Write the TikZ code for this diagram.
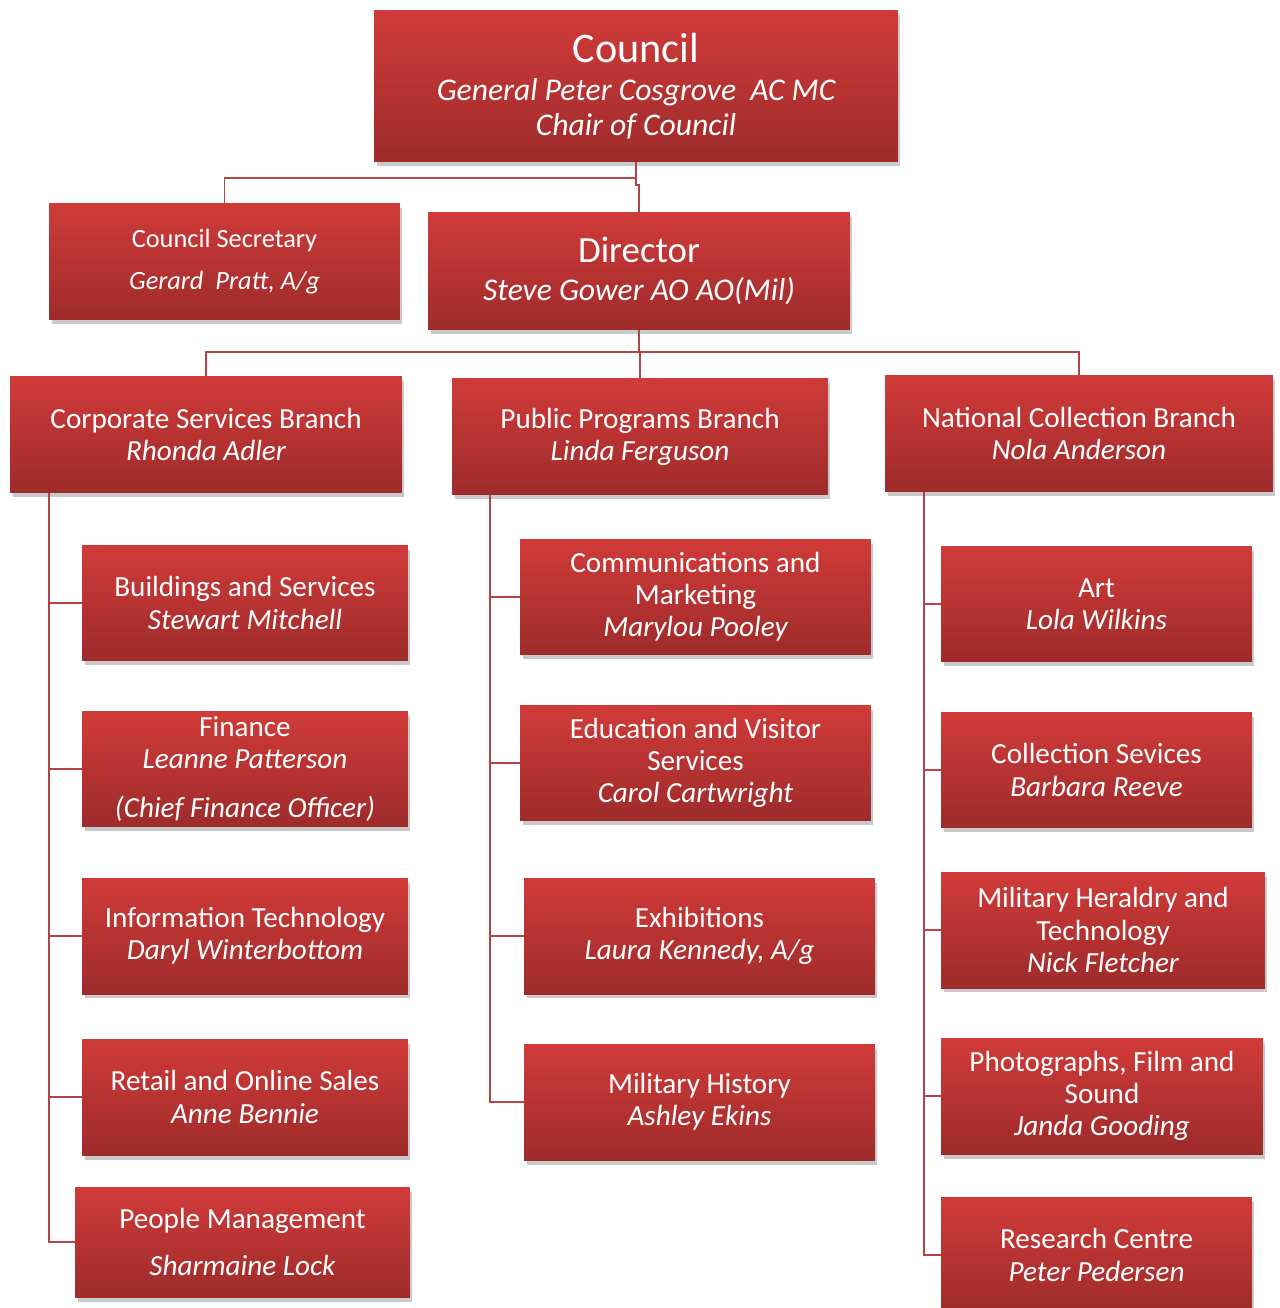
\documentclass[tikz,border=0pt]{standalone}
\usepackage{fontspec}
\setmainfont{Carlito}
\usetikzlibrary{shadows}

\definecolor{boxtop}{RGB}{208,59,57}
\definecolor{boxbot}{RGB}{158,43,43}
\definecolor{linkred}{RGB}{178,68,70}

\newcommand{\fsz}[2]{\fontsize{#1}{#2}\selectfont}

\begin{document}
\begin{tikzpicture}[x=0.02cm,y=-0.02cm,
  every node/.style={align=center},
  box/.style={rectangle, inner sep=0pt, text=white, top color=boxtop, bottom color=boxbot,
              drop shadow={shadow xshift=0.05cm, shadow yshift=-0.09cm, opacity=0.3, fill=black!70},
              font=\fsz{16.6}{18.3}},
  unit/.style={box, minimum height=2.32cm},
  conn/.style={draw=linkred, line width=1.1pt}]
\useasboundingbox (0,0) rectangle (1279,1308);

% top of the tree
\node[box, minimum width=10.48cm, minimum height=3.04cm, font=\fsz{18}{19.8}] (council) at (636,86)
  {{\fsz{24}{24}Council}\\[2pt]\itshape General Peter Cosgrove~~AC MC\\\itshape Chair of Council};
\node[box, minimum width=7.02cm, minimum height=2.34cm, font=\fsz{15}{17}] (secr) at (224.5,261.5)
  {Council Secretary\\[7pt]\itshape Gerard~~Pratt, A/g};
\node[box, minimum width=8.44cm, minimum height=2.34cm, font=\fsz{18}{21.5}] (dir) at (639,271)
  {{\fsz{21}{22}Director}\\\itshape Steve Gower AO AO(Mil)};

% branches
\node[box, minimum width=7.84cm, minimum height=2.34cm] (corp) at (206,434.5)
  {Corporate Services Branch\\\itshape Rhonda Adler};
\node[box, minimum width=7.52cm, minimum height=2.34cm] (pub) at (640,436.5)
  {Public Programs Branch\\\itshape Linda Ferguson};
\node[box, minimum width=7.76cm, minimum height=2.34cm] (nat) at (1079,433.5)
  {National Collection Branch\\\itshape Nola Anderson};

% corporate services
\node[unit, minimum width=6.52cm] (bldg) at (245,603) {Buildings and Services\\\itshape Stewart Mitchell};
\node[unit, minimum width=6.52cm] (fin) at (245,769) {Finance\\\itshape Leanne Patterson\\[10pt]\itshape(Chief Finance Officer)};
\node[unit, minimum width=6.52cm] (it) at (245,936) {Information Technology\\\itshape Daryl Winterbottom};
\node[unit, minimum width=6.52cm] (retail) at (245,1097) {Retail and Online Sales\\\itshape Anne Bennie};
\node[unit, minimum width=6.70cm, minimum height=2.20cm] (people) at (242.5,1242) {People Management\\[8pt]\itshape Sharmaine Lock};

% public programs
\node[unit, minimum width=7.02cm] (comms) at (695.5,597) {Communications and\\Marketing\\\itshape Marylou Pooley};
\node[unit, minimum width=7.02cm] (edu) at (695.5,763) {Education and Visitor\\Services\\\itshape Carol Cartwright};
\node[unit, minimum width=7.02cm] (exhib) at (699.5,936) {Exhibitions\\\itshape Laura Kennedy, A/g};
\node[unit, minimum width=7.02cm] (milhist) at (699.5,1102) {Military History\\\itshape Ashley Ekins};

% national collection
\node[unit, minimum width=6.22cm] (art) at (1096.5,604) {Art\\\itshape Lola Wilkins};
\node[unit, minimum width=6.22cm] (coll) at (1096.5,770) {Collection Sevices\\\itshape Barbara Reeve};
\node[unit, minimum width=6.48cm] (herald) at (1103,930) {Military Heraldry and\\Technology\\\itshape Nick Fletcher};
\node[unit, minimum width=6.44cm] (photo) at (1102,1096) {Photographs, Film and\\Sound\\\itshape Janda Gooding};
\node[unit, minimum width=6.22cm] (research) at (1096.5,1255) {Research Centre\\\itshape Peter Pedersen};

% connectors
\draw[conn] (council.south) -- ++(0,16) -| (secr.north);
\draw[conn] (council.south) -- ++(0,23) -| (dir.north);
\foreach \b in {corp,pub,nat}
  \draw[conn] (dir.south) -- ++(0,22) -| (\b.north);
\foreach \c in {bldg,fin,it,retail,people}
  \draw[conn] ([xshift=0.78cm]corp.south west) |- (\c.west);
\foreach \c in {comms,edu,exhib,milhist}
  \draw[conn] ([xshift=0.76cm]pub.south west) |- (\c.west);
\foreach \c in {art,coll,herald,photo,research}
  \draw[conn] ([xshift=0.78cm]nat.south west) |- (\c.west);
\end{tikzpicture}
\end{document}
